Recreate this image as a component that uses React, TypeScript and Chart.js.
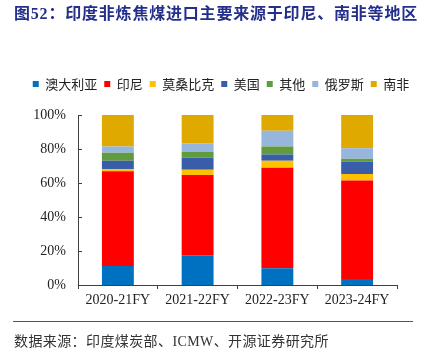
import React, { useEffect, useRef } from "react";
import { Chart, registerables } from "chart.js";

Chart.register(...registerables);

const categories = ["2020-21FY", "2021-22FY", "2022-23FY", "2023-24FY"];
const seriesNames = ["澳大利亚", "印尼", "莫桑比克", "美国", "其他", "俄罗斯", "南非"];
const australia = [11.2, 17.5, 9.8, 3.5];
const indonesia = [55.7, 47.2, 59.2, 57.9];
const mozambique = [1.2, 3.1, 4.1, 3.9];
const usa = [5.0, 7.1, 3.6, 7.4];
const others = [4.7, 3.5, 4.7, 1.6];
const russia = [3.6, 4.9, 9.4, 6.1];
const southAfrica = [18.6, 16.7, 9.2, 19.6];
const yTicks = [0, 20, 40, 60, 80, 100];

const seriesValues = [australia, indonesia, mozambique, usa, others, russia, southAfrica];
const seriesColors = ["#0070C0", "#FF0000", "#FFC000", "#3A5DA9", "#609B3E", "#97B6DD", "#DFA900"];

const AXIS = "#404040";

export default function App() {
  const ref = useRef<HTMLCanvasElement | null>(null);

  useEffect(() => {
    if (!ref.current) return;
    const legendSpacer = {
      id: "legendSpacer",
      beforeInit(chart: any) {
        const lg = chart.legend;
        if (!lg) return;
        const orig = lg.fit;
        lg.fit = function () {
          orig.bind(lg)();
          this.height += 14.5;
        };
      },
      afterLayout(chart: any) {
        const lg = chart.legend;
        if (!lg) return;
        lg.left += 22.5;
        lg.right += 22.5;
      },
    };
    const innerTicks = {
      id: "innerTicks",
      afterDraw(chart: any) {
        const y = chart.scales.y;
        const ctx = chart.ctx;
        const left = chart.chartArea.left;
        ctx.save();
        ctx.strokeStyle = AXIS;
        ctx.lineWidth = 1;
        yTicks.forEach((v) => {
          const py = Math.round(y.getPixelForValue(v)) + 0.5;
          ctx.beginPath();
          ctx.moveTo(left, py);
          ctx.lineTo(left + 4, py);
          ctx.stroke();
        });
        ctx.restore();
      },
    };
    const chart = new Chart(ref.current, {
      type: "bar",
      data: {
        labels: categories,
        datasets: seriesNames.map((name, i) => ({
          label: name,
          data: seriesValues[i],
          backgroundColor: seriesColors[i],
          borderWidth: 0,
          categoryPercentage: 1,
          barPercentage: 0.4,
        })),
      },
      options: {
        animation: false,
        responsive: false,
        maintainAspectRatio: false,
        layout: { padding: { top: 70.5, left: 0, right: 29, bottom: 44 } },
        plugins: {
          tooltip: { enabled: false },
          title: { display: false },
          legend: {
            position: "top",
            align: "center",
            labels: {
              boxWidth: 6,
              boxHeight: 6,
              padding: 7,
              color: "#222",
              font: { family: "'Noto Sans CJK SC', sans-serif", size: 13 },
            },
          },
        },
        scales: {
          x: {
            stacked: true,
            grid: {
              display: true,
              offset: true,
              drawOnChartArea: false,
              drawTicks: true,
              tickLength: 4,
              color: AXIS,
            },
            border: { display: true, color: AXIS, width: 1 },
            ticks: {
              color: "#222",
              padding: 3,
              font: { family: "'Liberation Serif', serif", size: 14 },
            },
            afterFit: (s: any) => {
              s.height = 30;
            },
          },
          y: {
            stacked: true,
            min: 0,
            max: 100,
            grid: { display: false, drawTicks: false },
            border: { display: true, color: AXIS, width: 1 },
            ticks: {
              stepSize: 20,
              padding: 12,
              color: "#222",
              font: { family: "'Liberation Serif', serif", size: 14 },
              callback: (v: any) => v + "%",
            },
            afterFit: (s: any) => {
              s.width = 78;
            },
          },
        },
      },
      plugins: [legendSpacer, innerTicks],
    });
    return () => chart.destroy();
  }, []);

  return (
    <div style={{ position: "absolute", left: 0, top: 0, width: 426, height: 359, background: "#fff", overflow: "hidden" }}>
      <canvas ref={ref} width={426} height={359} style={{ position: "absolute", left: 0, top: 0, width: 426, height: 359 }} />
      <div
        style={{
          position: "absolute",
          left: 14,
          top: 4,
          fontFamily: "'Liberation Serif', 'Noto Sans CJK SC', serif",
          fontWeight: "bold",
          fontSize: 16,
          letterSpacing: "0.8px",
          color: "#242F8C",
          whiteSpace: "nowrap",
          lineHeight: "20px",
        }}
      >
        图52：印度非炼焦煤进口主要来源于印尼、南非等地区
      </div>
      <div style={{ position: "absolute", left: 13, top: 321, width: 400, height: 1, background: "#555" }} />
      <div
        style={{
          position: "absolute",
          left: 14,
          top: 332,
          fontFamily: "'Liberation Serif', 'Noto Sans CJK SC', serif",
          fontSize: 14,
          letterSpacing: "0.4px",
          color: "#333",
          whiteSpace: "nowrap",
          lineHeight: "20px",
        }}
      >
        数据来源：印度煤炭部、ICMW、开源证券研究所
      </div>
    </div>
  );
}
